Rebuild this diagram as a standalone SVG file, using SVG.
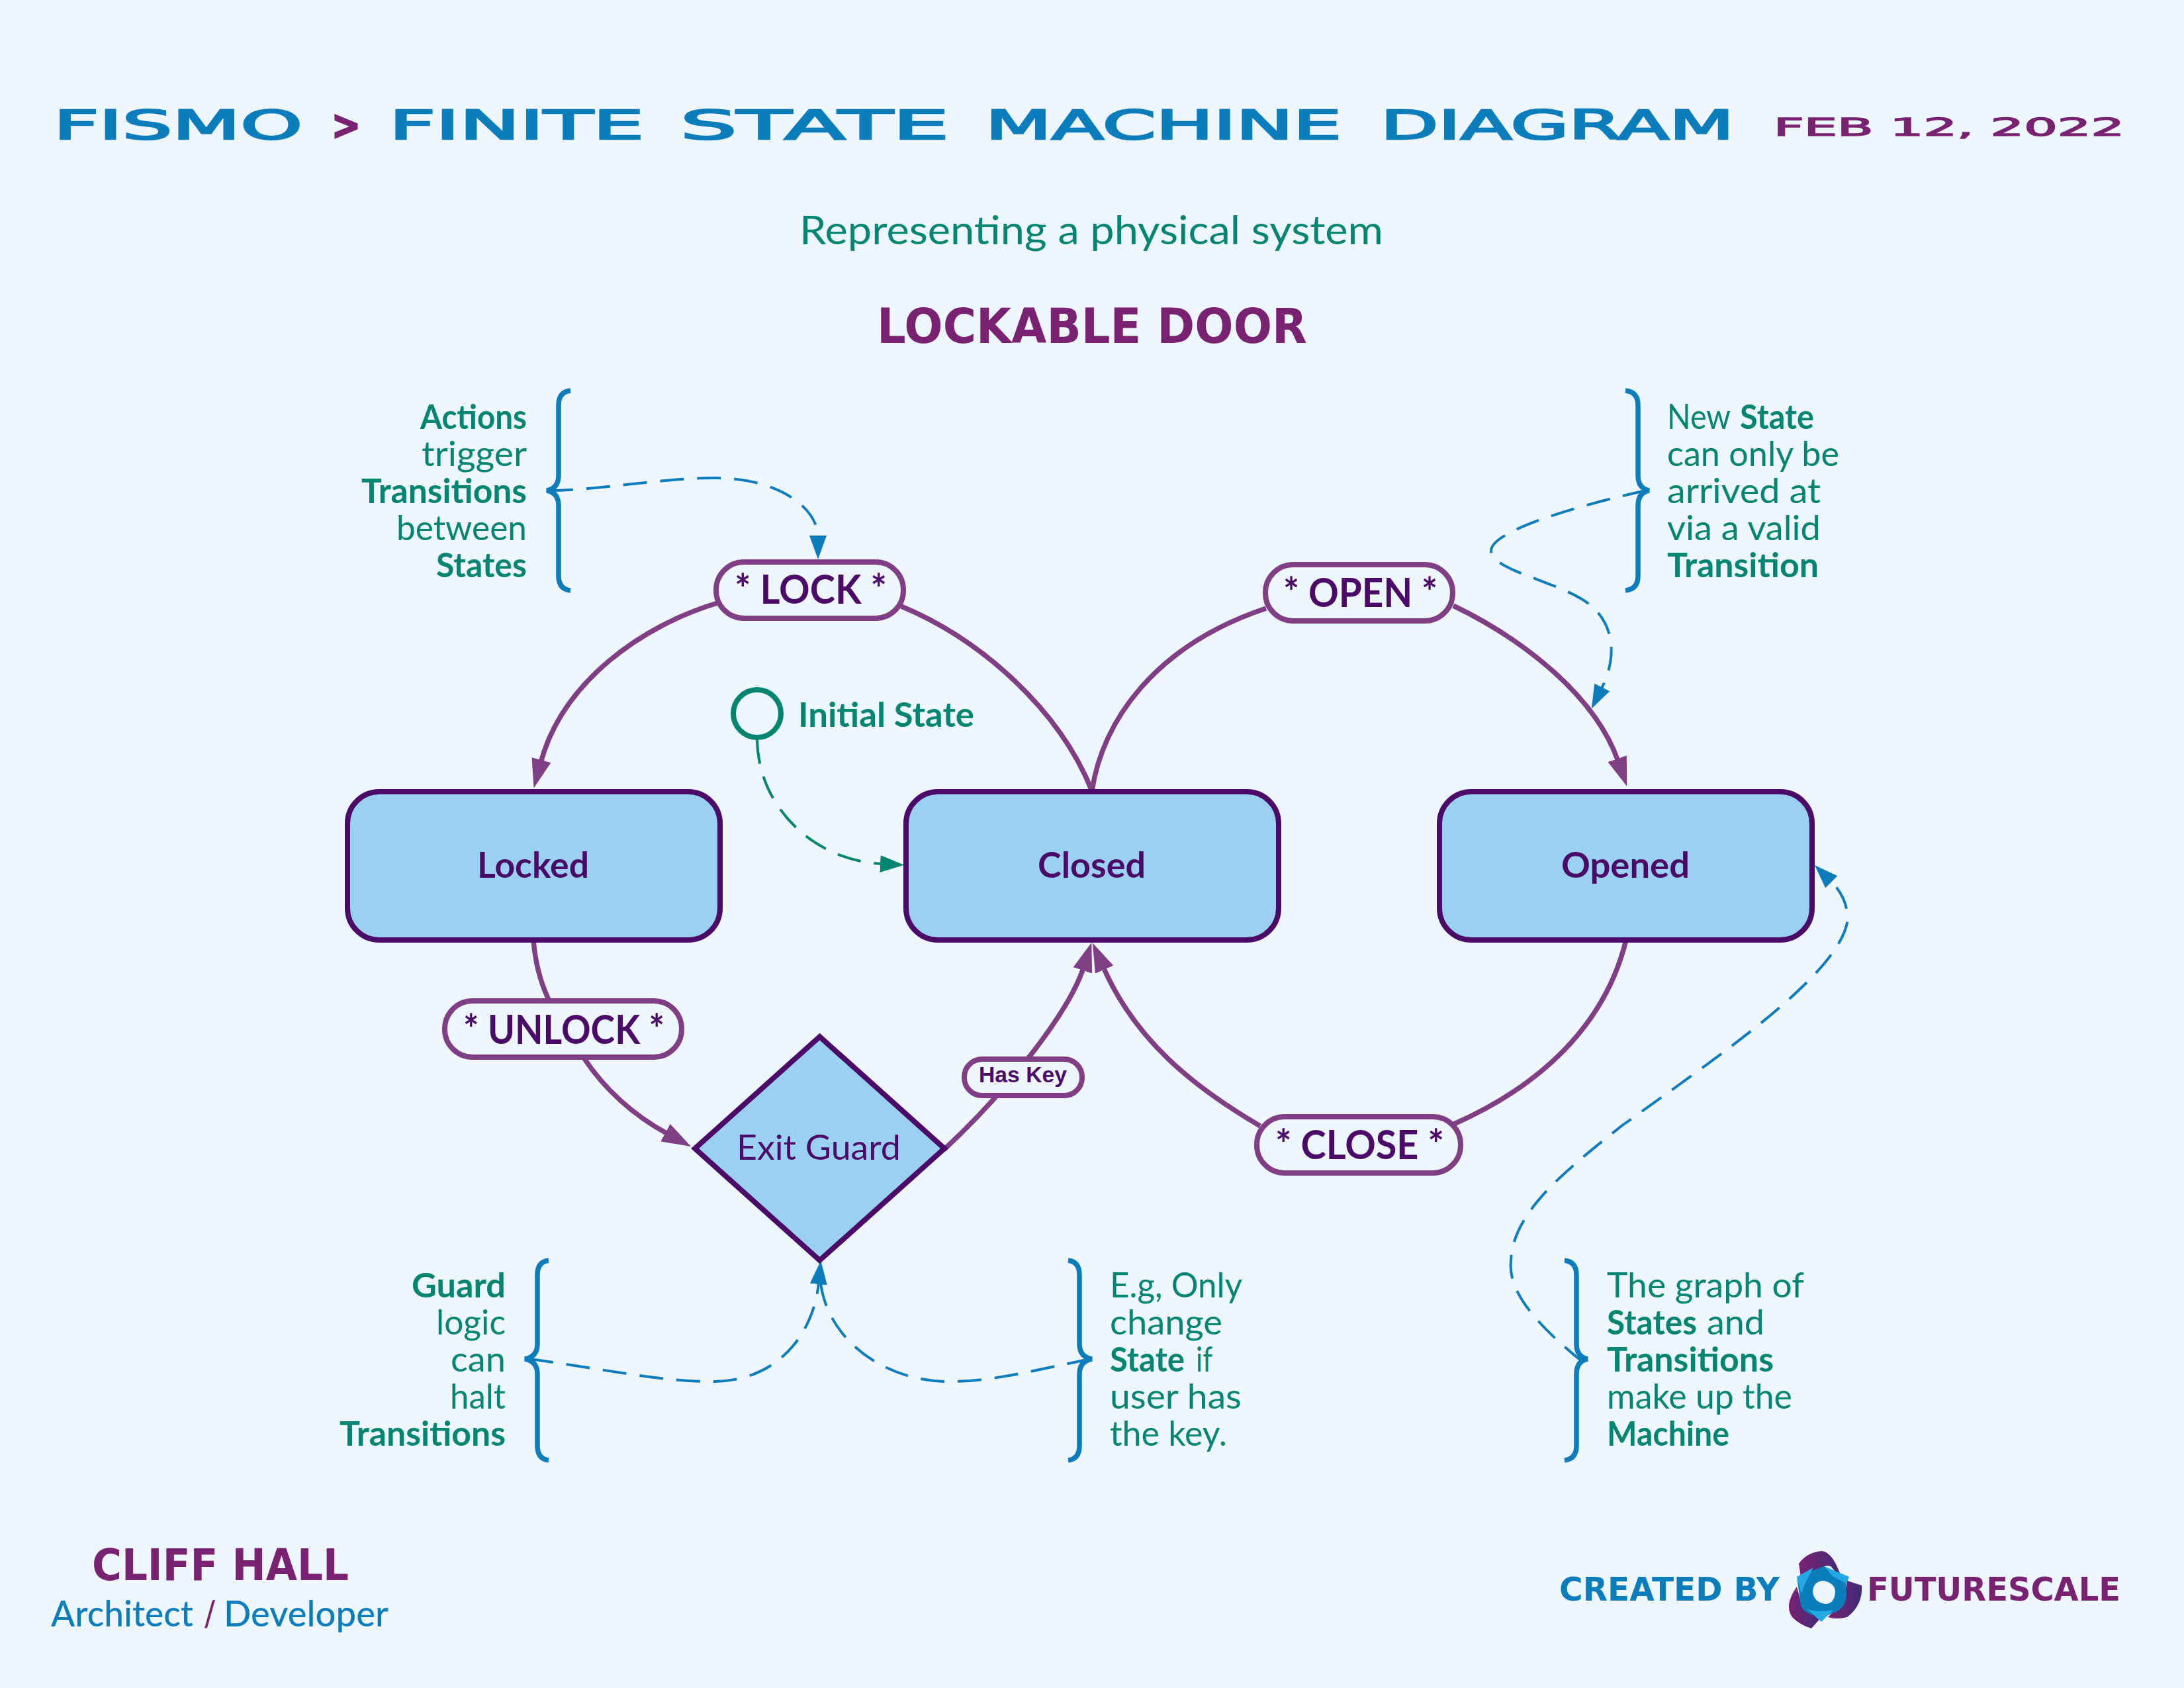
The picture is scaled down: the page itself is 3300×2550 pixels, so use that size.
<svg xmlns="http://www.w3.org/2000/svg" width="3300" height="2550" viewBox="0 0 3300 2550">
<defs>
<linearGradient id="logoP" x1="0" y1="0" x2="1" y2="0"><stop offset="0" stop-color="#7a2272"/><stop offset="1" stop-color="#3f2c78"/></linearGradient>
<marker id="headP" markerUnits="userSpaceOnUse" markerWidth="46" markerHeight="30" refX="4" refY="15" orient="auto"><path d="M0 0L44 15L0 30Z" fill="#803f85"/></marker>
<marker id="headB" markerUnits="userSpaceOnUse" markerWidth="38" markerHeight="26" refX="2" refY="13" orient="auto"><path d="M0 0L36 13L0 26Z" fill="#0b7dbd"/></marker>
<marker id="headG" markerUnits="userSpaceOnUse" markerWidth="38" markerHeight="26" refX="2" refY="13" orient="auto"><path d="M0 0L36 13L0 26Z" fill="#008570"/></marker>
</defs>
<style>
text{font-family:"Lato","Liberation Sans",sans-serif}
.disp{font-family:"DejaVu Sans","Liberation Sans",sans-serif}
.tb{fill:#0b7dbd}.tp{fill:#7a2272}.tg{fill:#008570}.td{fill:#4b0a68}
.note{font-size:52px;fill:#008570}
.b{font-weight:700}
.state{font-size:54px;font-weight:700;fill:#4b0a68}
.act{font-size:62px;font-weight:700;fill:#4b0a68}
.node{fill:#9ad1f3;stroke:#4b0a68;stroke-width:8}
.pill{fill:#eef6ff;stroke:#803f85;stroke-width:8}
.edge{fill:none;stroke:#803f85;stroke-width:7.500}
.dash{fill:none;stroke:#0b7dbd;stroke-width:4;stroke-dasharray:36 20}
.dashg{fill:none;stroke:#008570;stroke-width:4;stroke-dasharray:36 20}
.brace{fill:none;stroke:#0b7dbd;stroke-width:7.500;stroke-linecap:butt}
</style>
<rect width="3300" height="2550" fill="#eef6ff"/>

<g id="title">
<text class="disp tb" y="210" font-size="60" stroke="#0b7dbd" stroke-width="2.500"><tspan x="81" textLength="376" lengthAdjust="spacingAndGlyphs">FISMO</tspan> <tspan class="tp" stroke="#7a2272" x="501" textLength="44" lengthAdjust="spacingAndGlyphs" font-weight="700">&gt;</tspan> <tspan x="588" textLength="385" lengthAdjust="spacingAndGlyphs">FINITE</tspan> <tspan x="1028" textLength="406" lengthAdjust="spacingAndGlyphs">STATE</tspan> <tspan x="1489" textLength="538" lengthAdjust="spacingAndGlyphs">MACHINE</tspan> <tspan x="2086" textLength="534" lengthAdjust="spacingAndGlyphs">DIAGRAM</tspan></text>
<text class="disp tp" x="2680" y="205" font-size="37" stroke="#7a2272" stroke-width="1.500" textLength="530" lengthAdjust="spacingAndGlyphs">FEB 12, 2022</text>
<text class="tg" x="1208" y="369" font-size="60" textLength="882" lengthAdjust="spacingAndGlyphs">Representing a physical system</text>
<text class="disp tp b" x="1325" y="518" font-size="73" textLength="650" lengthAdjust="spacingAndGlyphs">LOCKABLE DOOR</text>
</g>

<g id="connectors">
<path class="edge" d="M1650 1195C1600 1070 1480 965 1362 916"/>
<path class="edge" d="M1084 911C970 945 850 1030 817 1152" marker-end="url(#headP)"/>
<path class="edge" d="M1650 1195C1665 1090 1745 975 1913 919"/>
<path class="edge" d="M2196 915C2300 965 2410 1050 2445 1150" marker-end="url(#headP)"/>
<path class="edge" d="M806 1420Q810 1470 829 1510"/>
<path class="edge" d="M882 1598Q930 1670 1009 1713" marker-end="url(#headP)"/>
<path class="edge" d="M1426 1737C1520 1650 1615 1530 1637 1462" marker-end="url(#headP)"/>
<path class="edge" d="M2457 1420C2430 1530 2350 1630 2197 1698"/>
<path class="edge" d="M1904 1701C1800 1640 1715 1570 1667 1461" marker-end="url(#headP)"/>
<path class="dash" d="M830 741C900 741 1000 722 1080 722C1180 722 1236 770 1236 811" marker-end="url(#headB)"/>
<path class="dash" d="M2487 741C2400 760 2253 800 2253 832C2253 860 2340 875 2390 905C2440 935 2445 990 2420 1040" marker-end="url(#headB)"/>
<path class="dashg" d="M1144 1118C1146 1220 1230 1300 1332 1305" marker-end="url(#headG)"/>
<path class="dash" d="M800 2053C900 2066 1000 2088 1080 2087C1180 2085 1230 2010 1237 1938" marker-end="url(#headB)"/>
<path class="dash" d="M1648 2053C1570 2068 1500 2088 1430 2087C1330 2085 1250 2020 1240 1938"/>
<path class="dash" d="M2392 2058C2320 2000 2278 1950 2283 1905C2285 1830 2370 1765 2450 1701C2590 1600 2785 1470 2792 1387C2790 1360 2780 1345 2766 1331" marker-end="url(#headB)"/>
</g>

<g id="node-locked"><rect class="node" x="525" y="1196" width="563" height="224" rx="48"/><text class="state" x="721" y="1326" textLength="169" lengthAdjust="spacingAndGlyphs">Locked</text></g>
<g id="node-closed"><rect class="node" x="1369" y="1196" width="563" height="224" rx="48"/><text class="state" x="1568" y="1326" textLength="163" lengthAdjust="spacingAndGlyphs">Closed</text></g>
<g id="node-opened"><rect class="node" x="2175" y="1196" width="563" height="224" rx="48"/><text class="state" x="2359" y="1326" textLength="194" lengthAdjust="spacingAndGlyphs">Opened</text></g>
<g id="node-guard"><path class="node" d="M1238.500 1566L1427 1735L1238.500 1904L1050 1735Z" stroke-linejoin="miter"/><text class="td" font-size="52" x="1113" y="1752" textLength="248" lengthAdjust="spacingAndGlyphs">Exit Guard</text></g>
<g id="node-initial"><circle cx="1144" cy="1078" r="36" fill="#eef6ff" stroke="#008570" stroke-width="8"/><text class="tg b" font-size="52" x="1206" y="1098" textLength="266" lengthAdjust="spacingAndGlyphs">Initial State</text></g>

<g id="label-lock"><rect class="pill" x="1082" y="849" width="283" height="85" rx="42"/><text class="act" x="1110" y="912" textLength="230" lengthAdjust="spacingAndGlyphs">* LOCK *</text></g>
<g id="label-open"><rect class="pill" x="1912" y="853" width="283" height="85" rx="42"/><text class="act" x="1939" y="917" textLength="233" lengthAdjust="spacingAndGlyphs">* OPEN *</text></g>
<g id="label-unlock"><rect class="pill" x="672" y="1512" width="358" height="85" rx="42"/><text class="act" x="700" y="1577" textLength="304" lengthAdjust="spacingAndGlyphs">* UNLOCK *</text></g>
<g id="label-close"><rect class="pill" x="1899" y="1687" width="308" height="85" rx="42"/><text class="act" x="1927" y="1751" textLength="255" lengthAdjust="spacingAndGlyphs">* CLOSE *</text></g>
<g id="label-haskey"><rect class="pill" x="1457" y="1600" width="178" height="55" rx="27"/><text class="td" style="font-family:'Liberation Sans',sans-serif;font-weight:700" font-size="33" x="1479" y="1635" textLength="133" lengthAdjust="spacingAndGlyphs">Has Key</text></g>

<g id="note-actions">
<path class="brace" d="M862 590Q844 592 844 612L844 718Q844 738 826 741Q844 744 844 764L844 870Q844 890 862 892"/>
<text class="note b" x="635" y="648" textLength="161" lengthAdjust="spacingAndGlyphs">Actions</text>
<text class="note" x="637" y="704" textLength="159" lengthAdjust="spacingAndGlyphs">trigger</text>
<text class="note b" x="546" y="760" textLength="250" lengthAdjust="spacingAndGlyphs">Transitions</text>
<text class="note" x="599" y="816" textLength="197" lengthAdjust="spacingAndGlyphs">between</text>
<text class="note b" x="659" y="872" textLength="137" lengthAdjust="spacingAndGlyphs">States</text>
</g>
<g id="note-newstate">
<path class="brace" d="M2456 590Q2475 592 2475 612L2475 718Q2475 738 2492 741Q2475 744 2475 764L2475 870Q2475 890 2456 892"/>
<text class="note" y="648"><tspan x="2519" textLength="95" lengthAdjust="spacingAndGlyphs">New</tspan> <tspan class="b" x="2629" textLength="112" lengthAdjust="spacingAndGlyphs">State</tspan></text>
<text class="note" x="2519" y="704" textLength="260" lengthAdjust="spacingAndGlyphs">can only be</text>
<text class="note" x="2519" y="760" textLength="232" lengthAdjust="spacingAndGlyphs">arrived at</text>
<text class="note" x="2519" y="816" textLength="232" lengthAdjust="spacingAndGlyphs">via a valid</text>
<text class="note b" x="2519" y="872" textLength="229" lengthAdjust="spacingAndGlyphs">Transition</text>
</g>
<g id="note-guard">
<path class="brace" d="M829 1904Q812 1906 812 1926L812 2030Q812 2050 793 2053Q812 2056 812 2076L812 2184Q812 2204 829 2206"/>
<text class="note b" x="622" y="1960" textLength="142" lengthAdjust="spacingAndGlyphs">Guard</text>
<text class="note" x="659" y="2016" textLength="105" lengthAdjust="spacingAndGlyphs">logic</text>
<text class="note" x="681" y="2072" textLength="83" lengthAdjust="spacingAndGlyphs">can</text>
<text class="note" x="680" y="2128" textLength="84" lengthAdjust="spacingAndGlyphs">halt</text>
<text class="note b" x="513" y="2184" textLength="251" lengthAdjust="spacingAndGlyphs">Transitions</text>
</g>
<g id="note-key">
<path class="brace" d="M1614 1904Q1631 1906 1631 1926L1631 2030Q1631 2050 1650 2053Q1631 2056 1631 2076L1631 2184Q1631 2204 1614 2206"/>
<text class="note" x="1677" y="1960" textLength="200" lengthAdjust="spacingAndGlyphs">E.g, Only</text>
<text class="note" x="1677" y="2016" textLength="170" lengthAdjust="spacingAndGlyphs">change</text>
<text class="note" y="2072"><tspan class="b" x="1677" textLength="113" lengthAdjust="spacingAndGlyphs">State</tspan> <tspan x="1807" textLength="25" lengthAdjust="spacingAndGlyphs">if</tspan></text>
<text class="note" x="1677" y="2128" textLength="199" lengthAdjust="spacingAndGlyphs">user has</text>
<text class="note" x="1677" y="2184" textLength="177" lengthAdjust="spacingAndGlyphs">the key.</text>
</g>
<g id="note-graph">
<path class="brace" d="M2364 1904Q2382 1906 2382 1926L2382 2030Q2382 2050 2399 2053Q2382 2056 2382 2076L2382 2184Q2382 2204 2364 2206"/>
<text class="note" x="2428" y="1960" textLength="298" lengthAdjust="spacingAndGlyphs">The graph of</text>
<text class="note" y="2016"><tspan class="b" x="2428" textLength="136" lengthAdjust="spacingAndGlyphs">States</tspan> <tspan x="2579" textLength="87" lengthAdjust="spacingAndGlyphs">and</tspan></text>
<text class="note b" x="2428" y="2072" textLength="252" lengthAdjust="spacingAndGlyphs">Transitions</text>
<text class="note" x="2428" y="2128" textLength="280" lengthAdjust="spacingAndGlyphs">make up the</text>
<text class="note b" x="2428" y="2184" textLength="185" lengthAdjust="spacingAndGlyphs">Machine</text>
</g>

<g id="footer-left">
<text class="disp tp b" x="139" y="2387" font-size="66" textLength="388" lengthAdjust="spacingAndGlyphs">CLIFF HALL</text>
<text class="tb" y="2457" font-size="54" font-weight="500"><tspan x="77" textLength="215" lengthAdjust="spacingAndGlyphs">Architect</tspan> <tspan class="tp b" x="308" textLength="18" lengthAdjust="spacingAndGlyphs">/</tspan> <tspan x="338" textLength="249" lengthAdjust="spacingAndGlyphs">Developer</tspan></text>
</g>
<g id="footer-right">
<text class="disp tb b" x="2356" y="2418" font-size="50" textLength="333" lengthAdjust="spacingAndGlyphs">CREATED BY</text>
<text class="disp tp b" x="2821" y="2418" font-size="50" textLength="383" lengthAdjust="spacingAndGlyphs">FUTURESCALE</text>
<path fill="url(#logoP)" d="M2718 2362Q2730 2345 2753 2343Q2770 2345 2783 2385L2766 2366Q2752 2362 2738 2384L2723 2396Z"/>
<path fill="url(#logoP)" d="M2791 2388L2813 2395Q2815 2425 2791 2443Q2775 2447 2762 2443L2785 2420Z"/>
<path fill="url(#logoP)" d="M2715 2397Q2695 2425 2708 2443Q2720 2455 2737 2460L2753 2442Q2725 2435 2721 2420Z"/>
<path fill="#0b7dbd" fill-rule="evenodd" d="M2715 2382L2756 2366L2790 2382L2789 2395Q2795 2430 2768 2437L2757 2443Q2725 2440 2721 2425ZM2739 2405Q2740 2388 2756 2388Q2773 2392 2773 2405Q2772 2423 2757 2423Q2741 2420 2739 2405Z"/>
<path fill="#22a8e2" d="M2715 2382L2740 2368L2726 2395L2722 2408ZM2756 2366L2794 2382L2790 2392L2770 2382ZM2730 2430Q2745 2437 2770 2432L2752 2450L2745 2444Z"/>
</g>
</svg>
